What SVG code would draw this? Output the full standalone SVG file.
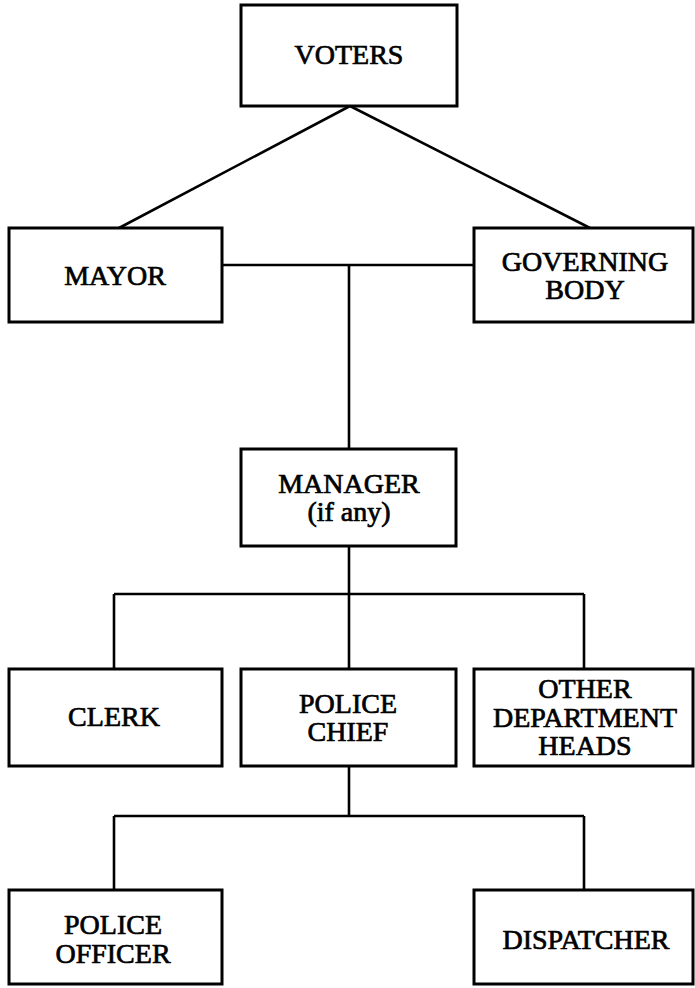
<svg xmlns="http://www.w3.org/2000/svg" width="695" height="988" viewBox="0 0 695 988">
<style>
.box{fill:#fff;stroke:#000;stroke-width:3}
.ln{fill:none;stroke:#000;stroke-width:2.6}
text{font-family:"Liberation Serif","Times New Roman",serif;font-size:28px;text-anchor:middle;fill:#000;stroke:#000;stroke-width:0.7}
</style>
<rect width="695" height="988" fill="#fff"/>
<g id="connectors">
<path class="ln" d="M350,106 L119,228 M350,106 L590,228"/>
<path class="ln" d="M222,265 H474 M349,265 V449"/>
<path class="ln" d="M349,546 V594 M114,594 H584 M114,594 V669 M349,594 V669 M584,594 V669"/>
<path class="ln" d="M349,766 V816 M114,816 H584 M114,816 V890 M584,816 V890"/>
</g>
<g id="voters"><rect class="box" x="241" y="5" width="216" height="101"/><text x="349" y="64">VOTERS</text></g>
<g id="mayor"><rect class="box" x="9" y="228" width="213" height="94"/><text x="115" y="285">MAYOR</text></g>
<g id="governing-body"><rect class="box" x="474" y="228" width="219" height="94"/><text x="585" y="271">GOVERNING</text><text x="585" y="299">BODY</text></g>
<g id="manager"><rect class="box" x="241" y="449" width="215" height="97"/><text x="349" y="493">MANAGER</text><text x="349" y="521">(if any)</text></g>
<g id="clerk"><rect class="box" x="9" y="669" width="213" height="97"/><text x="114" y="726">CLERK</text></g>
<g id="police-chief"><rect class="box" x="241" y="669" width="215" height="97"/><text x="348" y="713">POLICE</text><text x="348" y="741">CHIEF</text></g>
<g id="other-department-heads"><rect class="box" x="474" y="669" width="219" height="97"/><text x="585" y="698">OTHER</text><text x="585" y="727">DEPARTMENT</text><text x="585" y="755">HEADS</text></g>
<g id="police-officer"><rect class="box" x="9" y="890" width="213" height="94"/><text x="113" y="934">POLICE</text><text x="113" y="963">OFFICER</text></g>
<g id="dispatcher"><rect class="box" x="474" y="890" width="219" height="94"/><text x="586" y="949">DISPATCHER</text></g>
</svg>
